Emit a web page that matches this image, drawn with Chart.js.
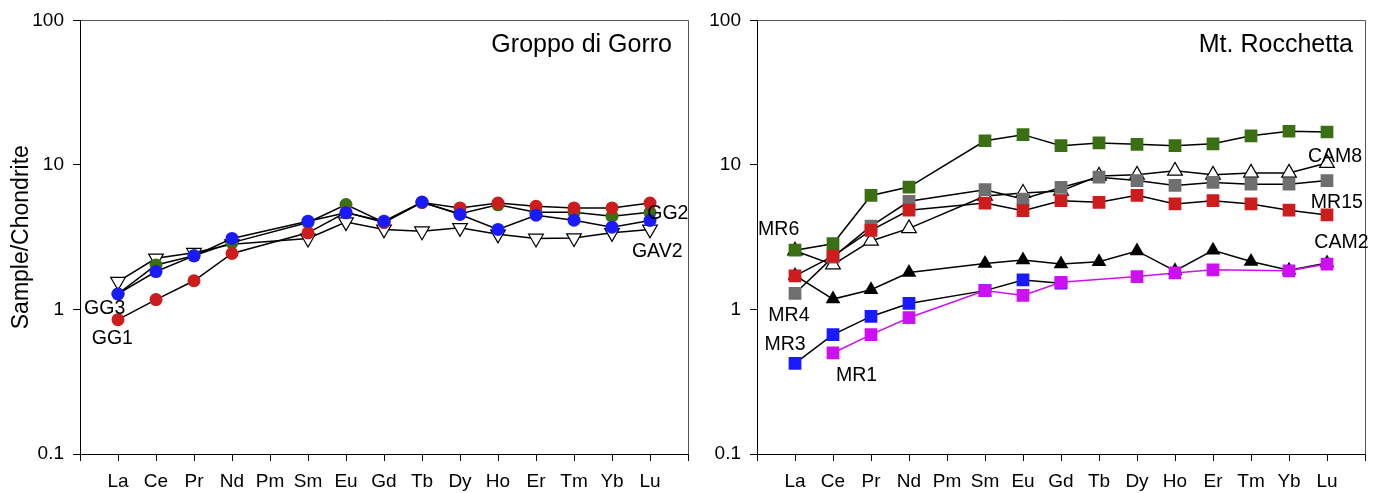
<!DOCTYPE html>
<html>
<head>
<meta charset="utf-8">
<script src="https://cdn.jsdelivr.net/npm/chart.js@4.4.1/dist/chart.umd.min.js"></script>
<style>
  html, body { margin: 0; padding: 0; background: #fff; }
  #wrap { position: relative; width: 1383px; height: 493px; overflow: hidden; }
  .panel { position: absolute; top: 0; height: 493px; }
  #gorro { left: 0; width: 700px; }
  #rocchetta { left: 700px; width: 683px; }
</style>
</head>
<body>
<div id="wrap">
  <div class="panel" id="gorro"><canvas id="cGorro" width="700" height="493"></canvas></div>
  <div class="panel" id="rocchetta"><canvas id="cRocchetta" width="683" height="493"></canvas></div>
</div>
<script>
// REE patterns normalised to chondrite
const ELEMENTS = ['La', 'Ce', 'Pr', 'Nd', 'Pm', 'Sm', 'Eu', 'Gd', 'Tb', 'Dy', 'Ho', 'Er', 'Tm', 'Yb', 'Lu'];
const Y_TICKS = [0.1, 1, 10, 100];

// Groppo di Gorro
const GG1 = [0.85, 1.17, 1.58, 2.44, null, 3.39, 4.7, 4.0, 5.5, 5.04, 5.45, 5.17, 5.04, 5.04, 5.45];
const GG2 = [1.28, 2.03, 2.35, 2.9, null, 4.0, 5.32, 4.0, 5.5, 4.6, 5.3, 4.7, 4.71, 4.42, 4.7];
const GG3 = [1.28, 1.83, 2.35, 3.1, null, 4.08, 4.66, 4.08, 5.54, 4.54, 3.58, 4.49, 4.15, 3.71, 4.13];
const GAV2 = [1.56, 2.26, 2.47, 2.83, null, 3.1, 4.02, 3.58, 3.48, 3.67, 3.31, 3.1, 3.12, 3.39, 3.58];

// Mt. Rocchetta
const MR6 = [2.57, 2.85, 6.15, 7.03, null, 14.7, 16.2, 13.6, 14.2, 13.9, 13.6, 14.0, 15.9, 17.1, 16.9];
const MR4 = [1.29, 2.3, 3.77, 5.6, null, 6.74, 5.81, 6.99, 8.22, 7.8, 7.21, 7.57, 7.36, 7.36, 7.8];
const MR15 = [1.71, 2.34, 3.53, 4.86, null, 5.45, 4.83, 5.66, 5.51, 6.16, 5.37, 5.66, 5.37, 4.86, 4.51];
const CAM8 = [2.55, 2.04, 2.98, 3.64, null, 6.1, 6.39, 6.6, 8.4, 8.54, 9.1, 8.54, 8.81, 8.81, 10.3];
const CAM2 = [1.72, 1.18, 1.37, 1.8, null, 2.08, 2.2, 2.06, 2.14, 2.54, 1.85, 2.57, 2.15, 1.87, 2.1];
const MR3 = [0.424, 0.67, 0.895, 1.1, null, 1.35, 1.6, 1.52, null, null, null, null, null, null, null];
const MR1 = [null, 0.5, 0.67, 0.877, null, 1.35, 1.25, 1.54, null, 1.69, 1.79, 1.88, null, 1.85, 2.06];

// sample names written beside the curves: [text, element index, value]
const GORRO_NAMES = [['GG3', -0.35, 1.02], ['GG1', -0.15, 0.63], ['GG2', 14.47, 4.64], ['GAV2', 14.19, 2.5]];
const ROCCHETTA_NAMES = [['MR6', -0.43, 3.54], ['MR4', -0.16, 0.91], ['MR3', -0.26, 0.575], ['MR1', 1.62, 0.347],
  ['CAM8', 14.21, 11.4], ['MR15', 14.26, 5.51], ['CAM2', 14.38, 2.88]];

const RED = '#cc1c1c', GREEN = '#3b6f14', BLUE = '#1a1aff', GRAY = '#6f6f6f', MAGENTA = '#cc10f2';

Chart.defaults.font.family = '"Liberation Sans", Arial, sans-serif';
Chart.defaults.color = '#000';

function toPoints(values) {
  return values.map((v, i) => ({ x: i, y: v }));
}

function series(label, values, style) {
  return Object.assign({
    label: label,
    data: toPoints(values),
    borderColor: '#000',
    borderWidth: 1.5,
    spanGaps: true,
    pointRadius: 6.5,
    pointHoverRadius: 6.5,
    pointBorderWidth: 0,
    pointBorderColor: '#000'
  }, style);
}

// box frame, panel title and sample names
const panelDecor = {
  id: 'panelDecor',
  afterDraw(chart, args, opts) {
    const { ctx, chartArea: a, scales } = chart;
    ctx.save();
    ctx.strokeStyle = '#555';
    ctx.lineWidth = 1;
    ctx.beginPath();
    ctx.moveTo(Math.round(a.left) + 0.5, Math.round(a.top) + 0.5);
    ctx.lineTo(Math.round(a.right) + 0.5, Math.round(a.top) + 0.5);
    ctx.lineTo(Math.round(a.right) + 0.5, Math.round(a.bottom) + 0.5);
    ctx.stroke();

    ctx.fillStyle = '#000';
    ctx.textBaseline = 'middle';
    ctx.font = '25px "Liberation Sans", Arial, sans-serif';
    ctx.textAlign = 'right';
    ctx.fillText(opts.title, a.right - opts.titleGap, a.top + 25);

    ctx.font = '19.5px "Liberation Sans", Arial, sans-serif';
    ctx.textAlign = 'center';
    opts.names.forEach(([txt, xi, v]) => {
      ctx.fillText(txt, scales.x.getPixelForValue(xi), scales.y.getPixelForValue(v));
    });
    ctx.restore();
  }
};

function makePanel(canvasId, datasets, cfg) {
  return new Chart(document.getElementById(canvasId), {
    type: 'line',
    data: { datasets: datasets },
    plugins: [panelDecor],
    options: {
      responsive: false,
      animation: false,
      events: [],
      layout: { padding: { top: 17, right: cfg.padRight, left: 0, bottom: 0 } },
      plugins: {
        legend: { display: false },
        tooltip: { enabled: false },
        panelDecor: { title: cfg.title, titleGap: cfg.titleGap, names: cfg.names }
      },
      scales: {
        x: {
          type: 'linear',
          min: -1,
          max: 15,
          afterBuildTicks: s => { s.ticks = []; for (let i = -1; i <= 15; i++) s.ticks.push({ value: i }); },
          afterFit: s => { s.height = 39; },
          ticks: {
            autoSkip: false,
            maxRotation: 0,
            padding: 9,
            font: { size: 19 },
            callback: v => ELEMENTS[v] || ''
          },
          grid: { drawOnChartArea: false, drawTicks: true, tickLength: 7, color: '#000', lineWidth: 1 },
          border: { display: true, color: '#000', width: 1 }
        },
        y: {
          type: 'logarithmic',
          min: 0.1,
          max: 100,
          afterBuildTicks: s => { s.ticks = Y_TICKS.map(v => ({ value: v })); },
          afterFit: s => { s.width = cfg.yWidth; },
          ticks: {
            padding: 9,
            font: { size: 19 },
            callback: v => String(v)
          },
          grid: { drawOnChartArea: false, drawTicks: true, tickLength: 7, color: '#000', lineWidth: 1 },
          border: { display: true, color: '#000', width: 1 },
          title: {
            display: !!cfg.yTitle,
            text: cfg.yTitle || '',
            font: { size: 23 },
            padding: { top: 8, bottom: 0 }
          }
        }
      }
    }
  });
}

// datasets listed top-most first
makePanel('cGorro', [
  series('GG3', GG3, { pointStyle: 'circle', pointBackgroundColor: BLUE }),
  series('GG1', GG1, { pointStyle: 'circle', pointBackgroundColor: RED }),
  series('GG2', GG2, { pointStyle: 'circle', pointBackgroundColor: GREEN }),
  series('GAV2', GAV2, { pointStyle: 'triangle', pointRotation: 180, pointRadius: 8.5,
    pointBackgroundColor: '#fff', pointBorderWidth: 1.2 })
], { title: 'Groppo di Gorro', titleGap: 16, names: GORRO_NAMES, yWidth: 80, padRight: 12,
     yTitle: 'Sample/Chondrite' });

makePanel('cRocchetta', [
  series('MR1', MR1, { pointStyle: 'rect', pointRadius: 9, pointBackgroundColor: MAGENTA, borderColor: MAGENTA }),
  series('MR3', MR3, { pointStyle: 'rect', pointRadius: 9, pointBackgroundColor: BLUE }),
  series('MR15', MR15, { pointStyle: 'rect', pointRadius: 9, pointBackgroundColor: RED }),
  series('MR6', MR6, { pointStyle: 'rect', pointRadius: 9, pointBackgroundColor: GREEN }),
  series('MR4', MR4, { pointStyle: 'rect', pointRadius: 9, pointBackgroundColor: GRAY }),
  series('CAM2', CAM2, { pointStyle: 'triangle', pointRadius: 8.5, pointBackgroundColor: '#000' }),
  series('CAM8', CAM8, { pointStyle: 'triangle', pointRadius: 8.5, pointBackgroundColor: '#fff', pointBorderWidth: 1.2 })
], { title: 'Mt. Rocchetta', titleGap: 12, names: ROCCHETTA_NAMES, yWidth: 57, padRight: 18 });
</script>
</body>
</html>
